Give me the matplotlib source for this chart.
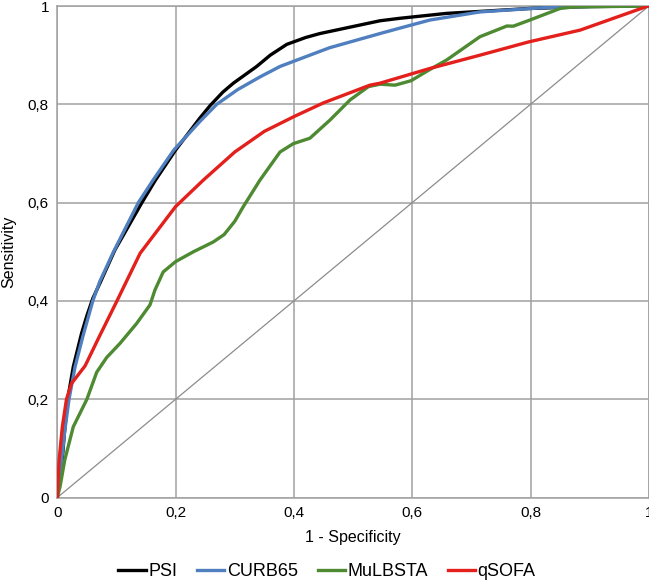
import numpy as np
import matplotlib.pyplot as plt

plt.rcParams['font.family'] = ['Liberation Sans', 'DejaVu Sans']

# ROC curves (1 - specificity, sensitivity)
psi_x = [0, 0.0074, 0.0119, 0.0175, 0.027, 0.041, 0.05, 0.06, 0.072, 0.0975, 0.143, 0.166,
         0.2, 0.241, 0.258, 0.28, 0.2976, 0.337, 0.36, 0.388, 0.42, 0.444, 0.5456,
         0.579, 0.658, 0.799, 0.9, 1]
psi_y = [0, 0.063, 0.13, 0.2, 0.266, 0.334, 0.37, 0.405, 0.436, 0.504, 0.6, 0.646,
         0.707, 0.772, 0.797, 0.825, 0.843, 0.877, 0.9, 0.922, 0.936, 0.944, 0.970,
         0.975, 0.985, 0.995, 0.999, 1]

curb_x = [0, 0.006, 0.012, 0.0198, 0.03, 0.043, 0.06, 0.072, 0.095, 0.137, 0.162, 0.197,
          0.241, 0.2695, 0.305, 0.343, 0.3765, 0.405, 0.46, 0.5456, 0.579, 0.630, 0.7146,
          0.827, 0.9, 1]
curb_y = [0, 0.06, 0.13, 0.2, 0.266, 0.327, 0.4, 0.44, 0.5, 0.6, 0.646, 0.707,
          0.765, 0.8, 0.83, 0.856, 0.877, 0.89, 0.915, 0.944, 0.955, 0.9715, 0.988,
          0.997, 0.999, 1]

mul_x = [0, 0.0046, 0.0125, 0.027, 0.05, 0.0666, 0.0835, 0.106, 0.134, 0.1567, 0.165,
         0.179, 0.2, 0.23, 0.2637, 0.282, 0.3, 0.3145, 0.3427, 0.3765, 0.399, 0.427, 0.461,
         0.495, 0.526, 0.5456, 0.571, 0.598, 0.63, 0.658, 0.7146, 0.760, 0.771, 0.799,
         0.85, 0.872, 1]
mul_y = [0, 0.022, 0.076, 0.144, 0.2, 0.255, 0.285, 0.3137, 0.354, 0.392, 0.422,
         0.459, 0.48, 0.5, 0.52, 0.535, 0.562, 0.592, 0.646, 0.703, 0.72, 0.731, 0.768,
         0.809, 0.836, 0.841, 0.839, 0.848, 0.871, 0.89, 0.9376, 0.9593, 0.959, 0.9715,
         0.995, 0.998, 1]

qsofa_x = [0, 0.003, 0.0085, 0.0155, 0.024, 0.047, 0.072, 0.1, 0.14, 0.2, 0.247, 0.3,
           0.35, 0.4, 0.45, 0.5285, 0.5456, 0.63, 0.7146, 0.797, 0.884, 0.9965, 1]
qsofa_y = [0, 0.076, 0.144, 0.2, 0.232, 0.268, 0.33, 0.398, 0.497, 0.592, 0.646, 0.703,
           0.745, 0.775, 0.803, 0.839, 0.843, 0.873, 0.900, 0.927, 0.951, 0.999, 1]

ticks = [0, 0.2, 0.4, 0.6, 0.8, 1]
tick_labels = ['0', '0,2', '0,4', '0,6', '0,8', '1']

fig = plt.figure(figsize=(6.49, 5.84), dpi=100)
ax = fig.add_axes([0.0883, 0.148, 0.9114, 0.8417])

ax.plot([0, 1], [0, 1], color='#8c8c8c', linewidth=0.9, zorder=2)
lw = 2.4
ax.plot(psi_x, psi_y, color='#000000', linewidth=lw, label='PSI', zorder=3, solid_joinstyle='round')
ax.plot(curb_x, curb_y, color='#4f7fbf', linewidth=lw, label='CURB65', zorder=3, solid_joinstyle='round')
ax.plot(mul_x, mul_y, color='#4e8a32', linewidth=lw, label='MuLBSTA', zorder=3, solid_joinstyle='round')
ax.plot(qsofa_x, qsofa_y, color='#e3201c', linewidth=lw, label='qSOFA', zorder=4, solid_joinstyle='round')

ax.set_xlim(0, 1)
ax.set_ylim(0, 1)
ax.set_xticks(ticks)
ax.set_yticks(ticks)
ax.set_xticklabels(tick_labels, fontsize=11)
ax.set_yticklabels(tick_labels, fontsize=11)
ax.tick_params(length=0, pad=6)
ax.grid(True, color='#a0a0a0', linewidth=1.1)
ax.set_axisbelow(True)
for s in ax.spines.values():
    s.set_color('#a0a0a0')
    s.set_linewidth(1.1)

ax.set_xlabel('1 - Specificity', fontsize=11.5, labelpad=7)
ax.set_ylabel('Sensitivity', fontsize=11.5, labelpad=8)

fig.legend(loc='center', bbox_to_anchor=(0.504, 0.021), ncol=4, frameon=False,
           fontsize=13, handlelength=1.5, handletextpad=0.15, columnspacing=1.1)

plt.savefig('out.png', dpi=100)
